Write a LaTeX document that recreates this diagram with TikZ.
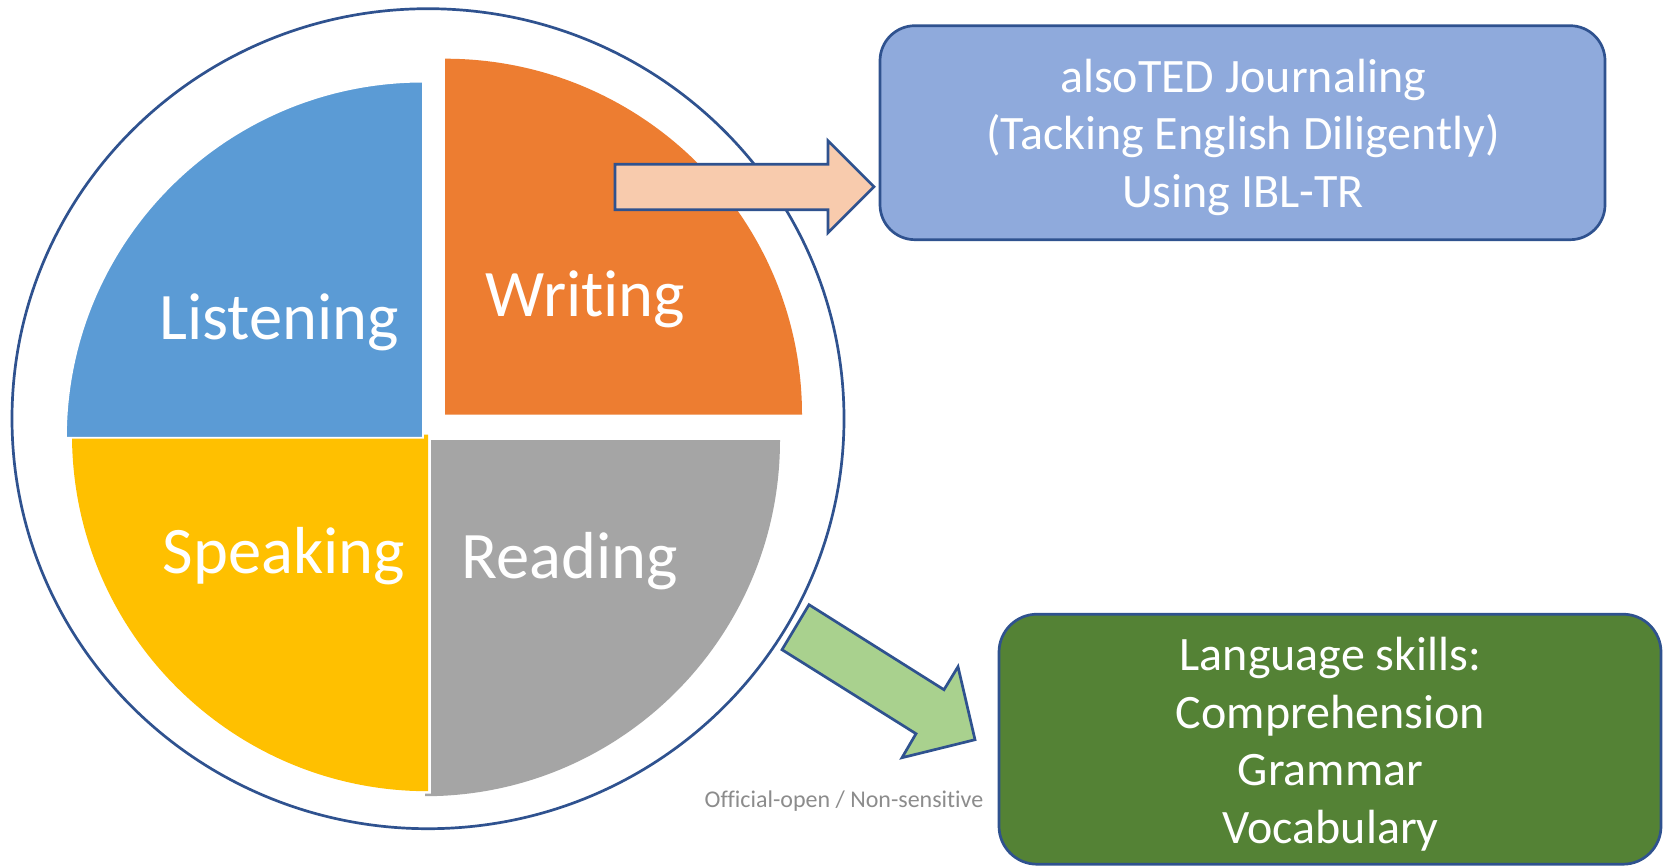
\documentclass[tikz,border=0pt]{standalone}
\usepackage{fontspec}
\setmainfont[Ligatures=NoCommon]{Carlito}
\definecolor{ringblue}{HTML}{2F528F}
\definecolor{qblue}{HTML}{5B9BD5}
\definecolor{qorange}{HTML}{ED7D31}
\definecolor{qgray}{HTML}{A5A5A5}
\definecolor{qyellow}{HTML}{FFC000}
\definecolor{boxblue}{HTML}{8FAADC}
\definecolor{boxgreen}{HTML}{548235}
\definecolor{arrowpeach}{HTML}{F8CBAD}
\definecolor{arrowgreen}{HTML}{A9D18E}
\definecolor{notegray}{HTML}{8C8C8C}
\tikzset{
  ring/.style={draw=ringblue,line width=2.7pt},
  quartertext/.style={text=white,font=\fontsize{66.5}{70}\selectfont,inner sep=0pt,anchor=center},
  boxtext/.style={text=white,align=center,font=\fontsize{48}{57.5}\selectfont,inner sep=0pt},
  blockarrow/.style={ring,line join=miter,miter limit=10},
}
\begin{document}
\begin{tikzpicture}[x=1pt,y=-1pt]
\useasboundingbox (0,-0.7) rectangle (1667,864.3);
\fill[white] (0,-0.7) rectangle (1667,864.3);
% outer circle
\draw[ring] (428,418) ellipse [x radius=416,y radius=410];
% quarters
\fill[qyellow] (428,434) -- (72,434) arc[start angle=180,end angle=90,x radius=356,y radius=356.5] -- cycle;
\fill[qgray] (431,439.5) -- (780,439.5) arc[start angle=0,end angle=90,x radius=355,y radius=356] -- (425,793) -- (431,793) -- cycle;
\draw[white,line width=1.6pt,fill=qblue] (423,437) -- (66,437) arc[start angle=180,end angle=90,x radius=357,y radius=-356] -- cycle;
\fill[qorange] (445,414) -- (802,414) arc[start angle=0,end angle=90,x radius=357,y radius=-356] -- cycle;
% quarter labels
\node[quartertext] (listening) at (279,321.5) {Listening};
\node[quartertext] (writing) at (585.5,299) {Writing};
\node[quartertext] (speaking) at (284,555) {Speaking};
\node[quartertext] (reading) at (569.5,560) {Reading};
% boxes
\draw[ring,fill=boxblue,rounded corners=35pt] (880,25) rectangle (1605,239);
\draw[ring,fill=boxgreen,rounded corners=38pt] (999,613.5) rectangle (1661,863.5);
\node[boxtext] (journal) at (1243,136.5) {alsoTED Journaling\\(Tacking English Diligently)\\Using IBL-TR};
\node[boxtext] (skills) at (1330.5,743.5) {Language skills:\\Comprehension\\Grammar\\Vocabulary};
% arrows
\draw[blockarrow,fill=arrowpeach] (615,163.5) -- (828,163.5) -- (828,140) -- (874,186) -- (828,232) -- (828,209) -- (615,209) -- cycle;
\draw[blockarrow,fill=arrowgreen] (809,604) -- (944,689) -- (958,666) -- (975,739) -- (902,757) -- (916,733) -- (782,649) -- cycle;
% note
\node[text=notegray,font=\fontsize{24}{27}\selectfont,inner sep=0pt] (note) at (844,800.5) {Official-open / Non-sensitive};
\end{tikzpicture}
\end{document}
